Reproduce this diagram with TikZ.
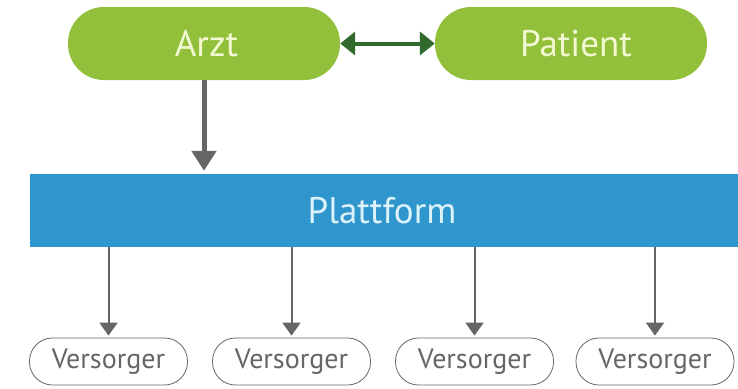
\documentclass[tikz,border=0pt]{standalone}
\usepackage{fontspec}
\setmainfont{PT Sans}
\usetikzlibrary{arrows.meta}
\definecolor{pillgreen}{HTML}{93C03A}
\definecolor{pilltext}{HTML}{F2F9D2}
\definecolor{darkgreen}{HTML}{2F6A2C}
\definecolor{bluebar}{HTML}{2E96CC}
\definecolor{bluetext}{HTML}{DDF1FA}
\definecolor{arrowgray}{HTML}{666666}
\definecolor{vtext}{HTML}{666666}
\tikzset{
  toppill/.style={fill=pillgreen, draw=none, rounded corners=36pt, minimum width=272pt, minimum height=73pt, inner sep=0pt, text=pilltext, font=\fontsize{37}{42}\selectfont},
  bar/.style={fill=bluebar, draw=none, minimum width=708pt, minimum height=73pt, inner sep=0pt, text=bluetext, font=\fontsize{37}{42}\selectfont},
  vpill/.style={draw=arrowgray, line width=0.8pt, rounded corners=23pt, minimum width=158pt, minimum height=47pt, inner sep=0pt, text=vtext, font=\fontsize{28}{32}\selectfont},
  bigarrow/.style={draw=arrowgray, line width=5pt, -{Triangle[length=20pt,width=24pt]}, shorten >=3pt},
  smallarrow/.style={draw=arrowgray, line width=2pt, -{Triangle[length=13pt,width=18pt]}, shorten >=2pt},
  dblarrow/.style={draw=darkgreen, line width=4pt, {Triangle[length=15pt,width=23pt]}-{Triangle[length=15pt,width=23pt]}}
}
\begin{document}
\begin{tikzpicture}[x=1pt,y=-1pt]
\useasboundingbox (0,0) rectangle (738,388);
\node[toppill] (arzt) at (204,43.5) {\hspace*{5pt}Arzt};
\node[toppill] (patient) at (571,43.5) {\hspace*{10pt}Patient};
\node[bar] (platt) at (384,210.5) {\hspace*{-4pt}Plattform};
\node[vpill] (v1) at (108.5,361.5) {Versorger};
\node[vpill] (v2) at (291.5,361.5) {Versorger};
\node[vpill] (v3) at (474.5,361.5) {Versorger};
\node[vpill] (v4) at (655,361.5) {Versorger};
\draw[dblarrow] (arzt.east) -- (patient.west);
\draw[bigarrow] (arzt.south) -- (arzt.south |- platt.north);
\foreach \v in {v1,v2,v3,v4}{
  \draw[smallarrow] (\v.north |- platt.south) -- (\v.north);
}
\end{tikzpicture}
\end{document}
